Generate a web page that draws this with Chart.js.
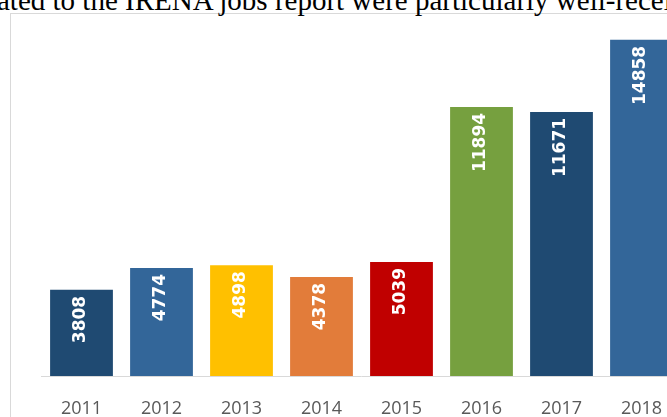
<!DOCTYPE html>
<html><head><meta charset="utf-8">
<script src="https://cdn.jsdelivr.net/npm/chart.js@4.4.0/dist/chart.umd.min.js"></script>
<style>
html,body{margin:0;padding:0;background:#fff;overflow:hidden;width:667px;height:417px;}
#wrap{position:relative;width:667px;height:417px;overflow:hidden;background:#fff;}
#frame{position:absolute;left:10px;top:13px;width:800px;height:500px;border:1px solid #d9d9d9;box-sizing:border-box;}
#caption{position:absolute;left:-3px;top:-16px;font-family:"Liberation Serif","Times New Roman",serif;font-size:29px;white-space:nowrap;color:#000;line-height:32px;}
#c{position:absolute;left:0;top:0;}
</style></head>
<body><div id="wrap"><div id="frame"></div><div id="caption">ated to the IRENA jobs report were particularly well-received</div><canvas id="c" width="720" height="417" style="width:720px;height:417px"></canvas></div>
<script>
const years = ['2011','2012','2013','2014','2015','2016','2017','2018'];
const jobs = [3808, 4774, 4898, 4378, 5039, 11894, 11671, 14858];
const barColors = ['#1F4A72','#336699','#FFC000','#E27C3A','#C00000','#76A03F','#1F4A72','#336699'];
const yMax = 16000;

const barLabels = {
  id: 'barLabels',
  afterDatasetsDraw(chart) {
    const ctx = chart.ctx;
    const meta = chart.getDatasetMeta(0);
    const vals = chart.data.datasets[0].data;
    ctx.save();
    ctx.font = 'bold 17px "DejaVu Sans"';
    ctx.fillStyle = '#ffffff';
    ctx.textAlign = 'right';
    ctx.textBaseline = 'middle';
    meta.data.forEach((bar, i) => {
      ctx.save();
      ctx.translate(bar.x - 1, bar.y + 6);
      ctx.rotate(-Math.PI / 2);
      ctx.fillText(String(vals[i]), 0, 0);
      ctx.restore();
    });
    ctx.restore();
  }
};

new Chart(document.getElementById('c'), {
  type: 'bar',
  data: {
    labels: years,
    datasets: [{
      data: jobs,
      backgroundColor: barColors,
      borderWidth: 0,
      categoryPercentage: 1,
      barPercentage: 0.785
    }]
  },
  options: {
    responsive: false,
    animation: false,
    devicePixelRatio: 1,
    layout: { padding: { left: 41.5, right: 38.5, top: 14, bottom: 0 } },
    plugins: { legend: { display: false }, tooltip: { enabled: false } },
    scales: {
      x: {
        grid: { display: false },
        border: { display: true, color: '#d9d9d9', width: 1 },
        ticks: { color: '#595959', font: { family: 'Open Sans', size: 18 }, padding: 14, maxRotation: 0 },
        afterFit(scale) { scale.height = 41; }
      },
      y: { display: false, min: 0, max: yMax }
    }
  },
  plugins: [barLabels]
});
</script>
</body></html>
